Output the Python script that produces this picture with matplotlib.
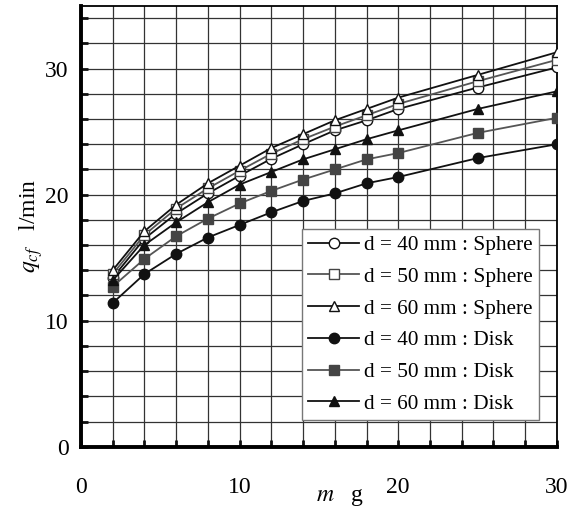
import matplotlib
matplotlib.use('Agg')
import matplotlib.pyplot as plt
import matplotlib.ticker as mticker

# Flow rate q_cf [l/min] against mass m [g]
m_g = [2, 4, 6, 8, 10, 12, 14, 16, 18, 20, 25, 30]

sphere_40 = [13.4, 16.5, 18.5, 20.1, 21.5, 22.85, 24.0, 25.1, 25.9, 26.8, 28.5, 30.1]
sphere_50 = [13.7, 16.8, 18.9, 20.5, 21.9, 23.25, 24.4, 25.4, 26.3, 27.2, 29.0, 30.7]
sphere_60 = [14.0, 17.1, 19.2, 20.9, 22.3, 23.7, 24.8, 25.9, 26.8, 27.7, 29.5, 31.3]
disk_40 = [11.4, 13.7, 15.3, 16.6, 17.6, 18.6, 19.5, 20.1, 20.9, 21.4, 22.9, 24.0]
disk_50 = [12.7, 14.9, 16.7, 18.1, 19.3, 20.3, 21.2, 22.0, 22.8, 23.3, 24.9, 26.1]
disk_60 = [13.2, 16.0, 17.8, 19.4, 20.8, 21.8, 22.8, 23.6, 24.4, 25.1, 26.8, 28.2]

series_labels = [
    'd = 40 mm : Sphere', 'd = 50 mm : Sphere', 'd = 60 mm : Sphere',
    'd = 40 mm : Disk', 'd = 50 mm : Disk', 'd = 60 mm : Disk',
]

plt.rcParams.update({
    'font.family': ['Liberation Serif', 'DejaVu Serif'],
    'mathtext.fontset': 'stix',
    'font.size': 17,
})

BLACK = '#111111'
GREY = '#555555'

# (values, line colour, marker, marker face)
styles = [
    (sphere_40, BLACK, 'o', 'white'),
    (sphere_50, GREY, 's', 'white'),
    (sphere_60, BLACK, '^', 'white'),
    (disk_40, BLACK, 'o', BLACK),
    (disk_50, GREY, 's', '#444444'),
    (disk_60, BLACK, '^', BLACK),
]

fig = plt.figure(figsize=(5.70, 5.12), dpi=100)
ax = fig.add_axes([0.142, 0.1275, 0.835, 0.8615])

for (vals, col, mk, face), lab in zip(styles, series_labels):
    ax.plot(m_g, vals, color=col, linewidth=1.3, marker=mk, markersize=7.5,
            markerfacecolor=face, markeredgecolor=BLACK if col == BLACK else '#444444',
            markeredgewidth=1.0, label=lab, zorder=3)

ax.set_xlim(0, 30)
ax.set_ylim(0, 35)
ax.xaxis.set_major_locator(mticker.MultipleLocator(10))
ax.xaxis.set_minor_locator(mticker.MultipleLocator(2))
ax.yaxis.set_major_locator(mticker.FixedLocator([0, 10, 20, 30]))
ax.yaxis.set_minor_locator(mticker.MultipleLocator(2))

ax.grid(which='both', color='#333333', linewidth=0.9)
ax.set_axisbelow(True)

ax.tick_params(which='both', direction='in', length=5, width=2, color=BLACK)
ax.tick_params(axis='x', which='major', pad=22)
ax.tick_params(axis='y', which='major', pad=9)

for side in ['left', 'bottom']:
    ax.spines[side].set_linewidth(2.8)
for side in ['top', 'right']:
    ax.spines[side].set_linewidth(1.3)

ax.set_ylabel(r'$q_{cf}$   l/min', fontsize=17)
ax.yaxis.set_label_coords(-0.075, 0.5)
ax.text(0.544, -0.114, r'$m$   g', transform=ax.transAxes, ha='center', va='center',
        fontsize=17)

leg = ax.legend(loc='lower right', bbox_to_anchor=(0.962, 0.06), fontsize=15.3,
                fancybox=False, framealpha=1, edgecolor='#777777',
                handlelength=2.4, handletextpad=0.2, labelspacing=0.56,
                borderpad=0.3, borderaxespad=0)
leg.get_frame().set_linewidth(1.0)

fig.savefig('out.png', dpi=100)
